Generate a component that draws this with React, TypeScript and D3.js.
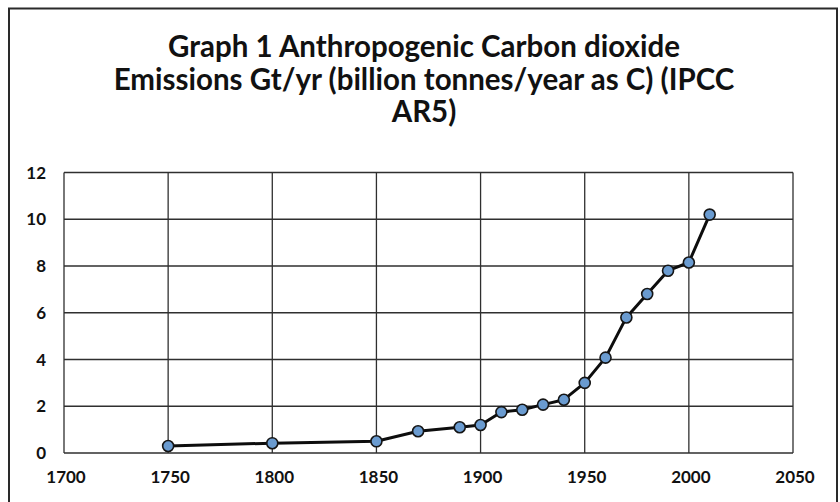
import React from "react";
import * as d3 from "d3";

const years = [1750, 1800, 1850, 1870, 1890, 1900, 1910, 1920, 1930, 1940, 1950, 1960, 1970, 1980, 1990, 2000, 2010];
const emissions = [0.3, 0.42, 0.5, 0.93, 1.1, 1.2, 1.75, 1.85, 2.07, 2.28, 3.0, 4.08, 5.8, 6.8, 7.8, 8.15, 10.2];
const xTicks = [1700, 1750, 1800, 1850, 1900, 1950, 2000, 2050];
const yTicks = [0, 2, 4, 6, 8, 10, 12];
const titleLines = [
  "Graph 1 Anthropogenic Carbon dioxide",
  "Emissions Gt/yr (billion tonnes/year as C) (IPCC",
  "AR5)",
];

const W = 840;
const H = 502;
const plot = { left: 64, right: 793, top: 172.5, bottom: 453 };
const FONT = "Lato, 'Open Sans', sans-serif";

export default function App() {
  const x = d3.scaleLinear().domain([1700, 2050]).range([plot.left, plot.right]);
  const y = d3.scaleLinear().domain([0, 12]).range([plot.bottom, plot.top]);
  const pts = years.map((yr, i) => [yr, emissions[i]] as [number, number]);
  const line = d3
    .line<[number, number]>()
    .x((d) => x(d[0]))
    .y((d) => y(d[1]));

  return (
    <svg
      width={W}
      height={H}
      style={{ position: "absolute", left: 0, top: 0, display: "block", background: "#fff" }}
    >
      <rect x={0} y={0} width={W} height={H} fill="#fff" />
      <rect x={9} y={8.5} width={828} height={H} fill="none" stroke="#2a2a2a" strokeWidth={2} />
      {titleLines.map((t, i) => (
        <text
          key={i}
          x={424}
          y={57 + i * 32.5}
          textAnchor="middle"
          fontFamily={FONT}
          fontWeight={700}
          fontSize={29.5}
          fill="#111"
        >
          {t}
        </text>
      ))}
      {yTicks.map((v) => (
        <line key={"gy" + v} x1={plot.left} x2={plot.right} y1={y(v)} y2={y(v)} stroke="#2f2f2f" strokeWidth={1.3} />
      ))}
      {xTicks.map((v) => (
        <line key={"gx" + v} x1={x(v)} x2={x(v)} y1={plot.top} y2={plot.bottom} stroke="#2f2f2f" strokeWidth={1.3} />
      ))}
      {yTicks.map((v) => (
        <text
          key={"ty" + v}
          x={46}
          y={y(v)}
          dy="0.36em"
          textAnchor="end"
          fontFamily={FONT}
          fontWeight={700}
          fontSize={17}
          fill="#111"
        >
          {v}
        </text>
      ))}
      {xTicks.map((v) => (
        <text
          key={"tx" + v}
          x={x(v) + 2}
          y={477}
          dy="0.36em"
          textAnchor="middle"
          fontFamily={FONT}
          fontWeight={700}
          fontSize={17}
          fill="#111"
        >
          {v}
        </text>
      ))}
      <path d={line(pts) || ""} fill="none" stroke="#0d0d0d" strokeWidth={3} strokeLinejoin="round" />
      {pts.map((d, i) => (
        <circle key={i} cx={x(d[0])} cy={y(d[1])} r={5.5} fill="#6a9bd0" stroke="#151515" strokeWidth={1.6} />
      ))}
    </svg>
  );
}
